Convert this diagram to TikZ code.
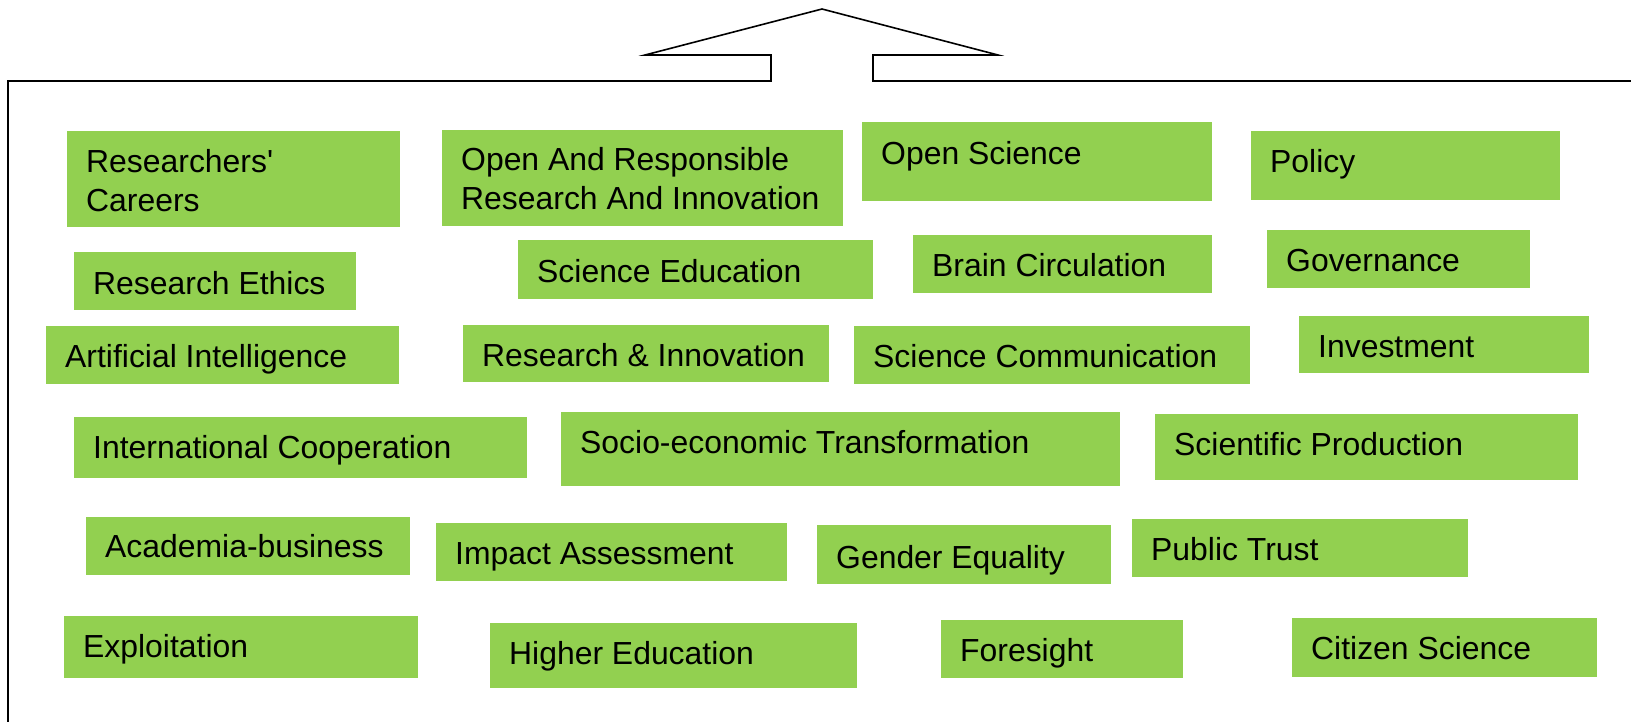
\documentclass[tikz,border=0pt]{standalone}
\usepackage{fontspec}
\setmainfont{Liberation Sans}[Ligatures=TeXOff]
\definecolor{boxgreen}{HTML}{92D050}
\tikzset{
  gbox/.style={rectangle, fill=boxgreen, draw=none, inner sep=0pt, anchor=north west},
  lbl/.style={inner sep=0pt, anchor=base west, align=left, font=\fontsize{31.9}{38.5}\selectfont},
  frame/.style={line width=1.6pt, black}
}
\newcommand\gbox[7]{%
  \node[gbox, minimum width={(#4-#2)*1pt}, minimum height={(#5-#3)*1pt}] (#1) at (#2,#3) {};
  \node[lbl] (#1t) at (#2+19,#6+11) {#7};
}
\begin{document}
\begin{tikzpicture}[x=1pt,y=-1pt]
\useasboundingbox (0,0) rectangle (1631,721);
\coordinate (fbl) at (8,730);
\coordinate (ftl) at (8,81);
\coordinate (nl1) at (771,81);
\coordinate (nl2) at (771,55);
\coordinate (wl) at (645,55);
\coordinate (apex) at (822,9);
\coordinate (wr) at (998,55);
\coordinate (nr2) at (873,55);
\coordinate (nr1) at (873,81);
\coordinate (ftr) at (1640,81);
\draw[frame] (fbl) -- (ftl) -- (nl1) -- (nl2) -- (wl) -- (apex) -- (wr) -- (nr2) -- (nr1) -- (ftr);
\gbox{rc}{67}{131}{400}{227}{200}{Researchers'\\Careers}
\gbox{orri}{442}{130}{843}{226}{198}{Open And Responsible\\Research And Innovation}
\gbox{os}{862}{122}{1212}{201}{153}{Open Science}
\gbox{pol}{1251}{131}{1560}{200}{161}{Policy}
\gbox{re}{74}{252}{356}{310}{283}{Research Ethics}
\gbox{se}{518}{240}{873}{299}{271}{Science Education}
\gbox{bc}{913}{235}{1212}{293}{265}{Brain Circulation}
\gbox{gov}{1267}{230}{1530}{288}{260}{Governance}
\gbox{ai}{46}{326}{399}{384}{356}{Artificial Intelligence}
\gbox{ri}{463}{325}{829}{382}{355}{Research \& Innovation}
\gbox{sc}{854}{326}{1250}{384}{356}{Science Communication}
\gbox{inv}{1299}{316}{1589}{373}{346}{Investment}
\gbox{ic}{74}{417}{527}{478}{447}{International Cooperation}
\gbox{set}{561}{412}{1120}{486}{442}{Socio-economic Transformation}
\gbox{sp}{1155}{414}{1578}{480}{444}{Scientific Production}
\gbox{ab}{86}{517}{410}{575}{546}{Academia-business}
\gbox{ia}{436}{523}{787}{581}{553}{Impact Assessment}
\gbox{ge}{817}{525}{1111}{584}{557}{Gender Equality}
\gbox{pt}{1132}{519}{1468}{577}{549}{Public Trust}
\gbox{ex}{64}{616}{418}{678}{646}{Exploitation}
\gbox{he}{490}{623}{857}{688}{653}{Higher Education}
\gbox{fs}{941}{620}{1183}{678}{650}{Foresight}
\gbox{cs}{1292}{618}{1597}{677}{648}{Citizen Science}
\end{tikzpicture}
\end{document}
